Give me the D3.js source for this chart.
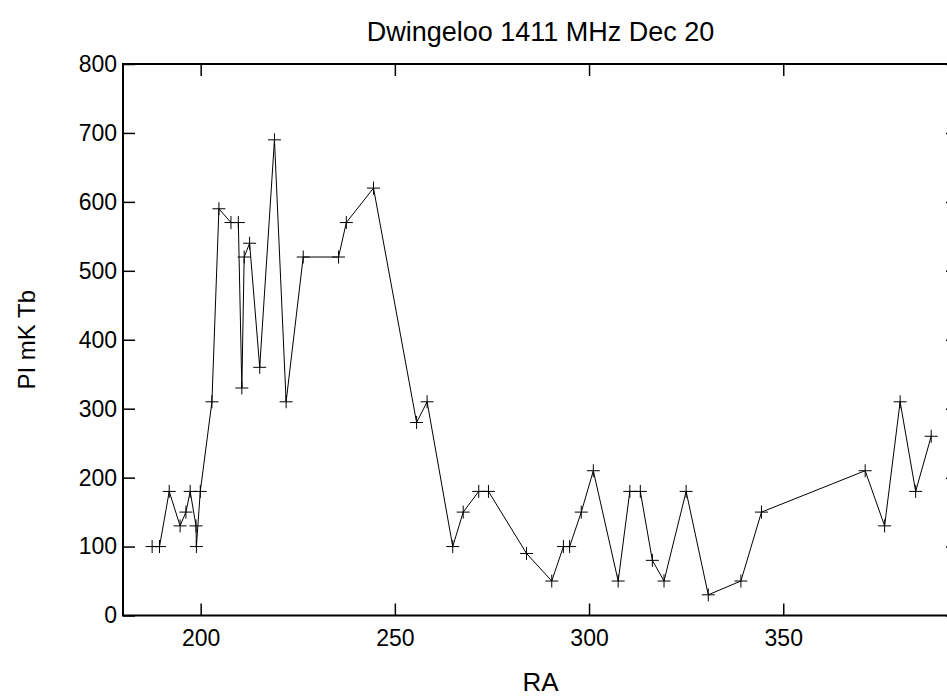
<!DOCTYPE html>
<html>

<head>
  <meta charset="utf-8">
  <title>Dwingeloo 1411 MHz Dec 20</title>
  <style>
    body {
      margin: 0;
      background: #fff;
    }

    svg {
      font-family: "Liberation Sans", Arial, sans-serif;
    }

    .tick text {
      font-size: 23px;
      fill: #000;
    }

    .tick line {
      stroke: #000;
      stroke-width: 1.5px;
    }

    .frame {
      fill: none;
      stroke: #000;
      stroke-width: 2px;
    }

    .trace {
      fill: none;
      stroke: #000;
      stroke-width: 1px;
    }

    .mark {
      stroke: #000;
      stroke-width: 1px;
    }
  </style>
</head>

<body>
  <svg width="947" height="696"></svg>

  <script src="https://cdn.jsdelivr.net/npm/d3@7"></script>
  <script>
    // RA (deg) and polarised intensity
    var ra = [187.5, 189.4, 191.9, 194.7, 196.2, 197.3, 198.8, 198.9, 199.9, 202.9,
      204.7, 207.8, 209.7, 210.6, 211.2, 212.6, 215.2, 219.0, 222.0, 226.4,
      235.5, 237.5, 244.5, 255.6, 258.3, 264.9, 267.6, 271.6, 274.1, 283.9,
      290.4, 293.4, 295.0, 298.0, 301.1, 307.5, 310.5, 313.2, 316.3, 319.3,
      325.0, 330.7, 339.1, 344.4, 371.1, 376.1, 380.1, 384.1, 388.1];
    var pi = [100, 100, 180, 130, 150, 180, 130, 100, 180, 310,
      590, 570, 570, 330, 520, 540, 360, 690, 310, 520,
      520, 570, 620, 280, 310, 100, 150, 180, 180, 90,
      50, 100, 100, 150, 210, 50, 180, 180, 80, 50,
      180, 30, 50, 150, 210, 130, 310, 180, 260];

    var xTicks = [200, 250, 300, 350];
    var yTicks = [0, 100, 200, 300, 400, 500, 600, 700, 800];

    // plot box (right side runs past the picture edge)
    var pLeft = 123, pRight = 958, pTop = 64, pBottom = 615.5;

    var svg = d3.select("svg");

    var x = d3.scaleLinear().domain([180, 395]).range([pLeft, pRight]);
    var y = d3.scaleLinear().domain([0, 800]).range([pBottom, pTop]);

    var pts = ra.map(function (d, i) { return { ra: d, pi: pi[i] }; });

    // ticks point into the plot, on all four sides
    svg.append("g")
      .attr("transform", "translate(" + pLeft + ",0)")
      .call(d3.axisLeft(y).tickValues(yTicks).tickSize(-12).tickPadding(6))
      .call(function (g) { g.select(".domain").remove(); });

    svg.append("g")
      .attr("transform", "translate(" + pRight + ",0)")
      .call(d3.axisRight(y).tickValues(yTicks).tickSize(-12).tickFormat(""))
      .call(function (g) { g.select(".domain").remove(); });

    svg.append("g")
      .attr("transform", "translate(0," + pBottom + ")")
      .call(d3.axisBottom(x).tickValues(xTicks).tickSize(-12).tickPadding(14))
      .call(function (g) { g.select(".domain").remove(); });

    svg.append("g")
      .attr("transform", "translate(0," + pTop + ")")
      .call(d3.axisTop(x).tickValues(xTicks).tickSize(-12).tickFormat(""))
      .call(function (g) { g.select(".domain").remove(); });

    svg.selectAll(".tick text").attr("font-family", null).attr("font-size", null);

    svg.append("rect")
      .attr("class", "frame")
      .attr("x", pLeft)
      .attr("y", pTop)
      .attr("width", pRight - pLeft)
      .attr("height", pBottom - pTop);

    // the data trace
    var line = d3.line()
      .x(function (d) { return x(d.ra); })
      .y(function (d) { return y(d.pi); });

    svg.append("path")
      .datum(pts)
      .attr("class", "trace")
      .attr("d", line);

    // "+" point markers
    var s = 6.5;
    var mk = svg.selectAll(".pt")
      .data(pts)
      .enter().append("g")
      .attr("class", "pt")
      .attr("transform", function (d) { return "translate(" + x(d.ra) + "," + y(d.pi) + ")"; });
    mk.append("line").attr("class", "mark").attr("x1", -s).attr("x2", s);
    mk.append("line").attr("class", "mark").attr("y1", -s).attr("y2", s);

    // titles
    var cx = (pLeft + pRight) / 2;
    svg.append("text")
      .attr("x", cx)
      .attr("y", 41)
      .attr("text-anchor", "middle")
      .style("font-size", "27px")
      .text("Dwingeloo 1411 MHz Dec 20");

    svg.append("text")
      .attr("x", cx)
      .attr("y", 691)
      .attr("text-anchor", "middle")
      .style("font-size", "26px")
      .text("RA");

    svg.append("text")
      .attr("transform", "translate(35," + ((pTop + pBottom) / 2) + ") rotate(-90)")
      .attr("text-anchor", "middle")
      .style("font-size", "24px")
      .text("PI mK Tb");
  </script>
</body>

</html>
